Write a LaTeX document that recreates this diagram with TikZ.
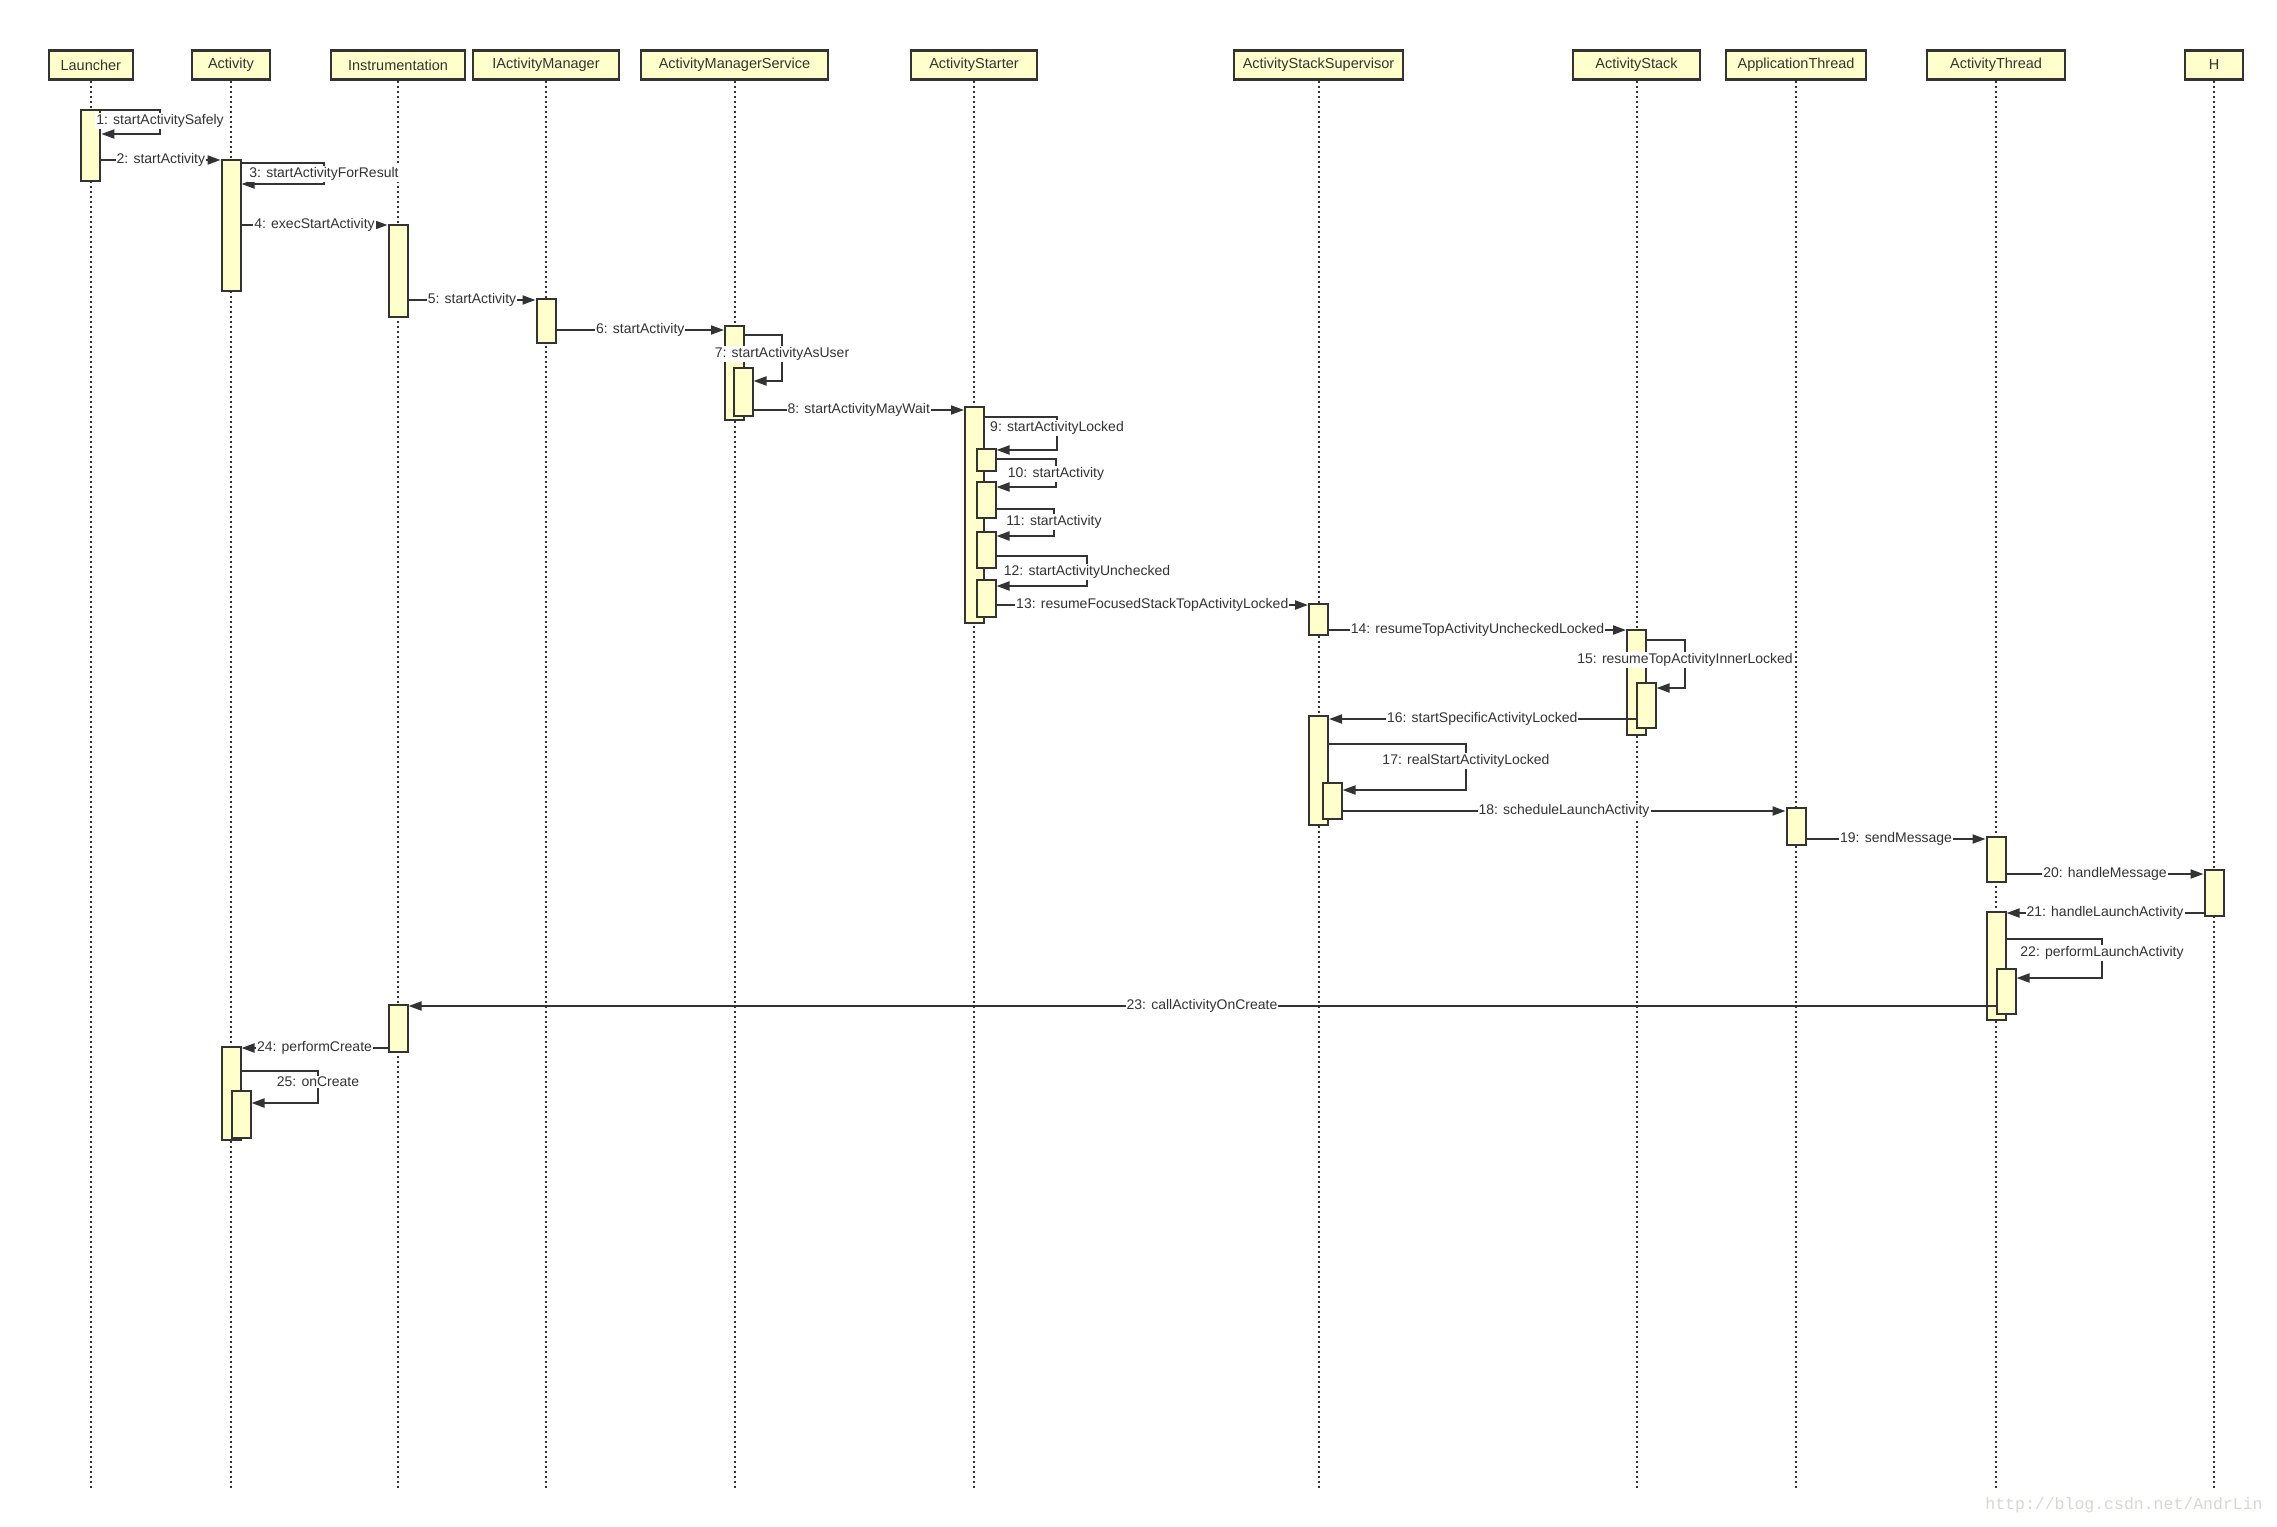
\documentclass[tikz,border=0pt]{standalone}
\usepackage{fontspec}
\setmainfont{Liberation Sans}
\newfontfamily\wmfont{Liberation Mono}
\usetikzlibrary{arrows.meta}
\definecolor{ink}{HTML}{333333}
\definecolor{actfill}{HTML}{FFFFCC}
\definecolor{wmgrey}{HTML}{D8D8D0}
\begin{document}
\begin{tikzpicture}[x=1pt,y=-1pt,
  hdr/.style={draw=ink, line width=2.5pt, fill=actfill, minimum height=29pt, inner sep=0pt,
              font=\fontsize{14.5}{16}\selectfont, text=ink},
  act/.style={draw=ink, line width=2pt, fill=actfill, minimum width=19pt, inner sep=0pt, anchor=north},
  life/.style={draw=ink, line width=2pt, dash pattern=on 2pt off 3pt},
  msg/.style={draw=ink, line width=2pt, -{Triangle[length=13pt,width=9pt]}},
  lbl/.style={fill=white, inner sep=1pt, font=\fontsize{14}{16}\selectfont, text=ink},
]
\fill[white] (0,0) rectangle (2277,1526);
\useasboundingbox (0,0) rectangle (2277,1526);

% ---------- headers ----------
\node[hdr, minimum width=84pt]  (hL) at (90.8,65)  {Launcher};
\node[hdr, minimum width=78pt]  (hA) at (231,65)   {Activity};
\node[hdr, minimum width=134pt] (hI) at (398,65)   {Instrumentation};
\node[hdr, minimum width=146pt] (hM) at (546,65)   {IActivityManager};
\node[hdr, minimum width=187pt] (hS) at (734.5,65) {ActivityManagerService};
\node[hdr, minimum width=126pt] (hR) at (974,65)   {ActivityStarter};
\node[hdr, minimum width=169pt] (hV) at (1318.5,65){ActivityStackSupervisor};
\node[hdr, minimum width=127pt] (hK) at (1636.5,65){ActivityStack};
\node[hdr, minimum width=140pt] (hP) at (1796,65)  {ApplicationThread};
\node[hdr, minimum width=138pt] (hT) at (1996,65)  {ActivityThread};
\node[hdr, minimum width=58pt]  (hH) at (2214,65)  {H};

% ---------- lifelines ----------
\foreach \h in {hL,hA,hI,hM,hS,hR,hV,hK,hP,hT,hH}{
  \coordinate (\h-end) at (\h.south |- 0,1489);
  \draw[life] (\h.south) -- (\h-end);
}

% ---------- activations ----------
\node[act, minimum height=71pt]  (aL)    at (90.8,109) {};
\node[act, minimum height=131pt] (aA1)   at (231,159)  {};
\node[act, minimum height=92pt]  (aI1)   at (398,224)  {};
\node[act, minimum height=44pt]  (aM)    at (546,298)  {};
\node[act, minimum height=94pt]  (aS)    at (734.5,325) {};
\node[act, minimum height=48pt]  (aS2)   at (743,367)  {};
\node[act, minimum height=216pt] (aR)    at (974.5,406) {};
\node[act, minimum height=22pt]  (aR9)   at (986,448)  {};
\node[act, minimum height=36pt]  (aR10)  at (986,481)  {};
\node[act, minimum height=36pt]  (aR11)  at (986,531)  {};
\node[act, minimum height=37pt]  (aR12)  at (986,579)  {};
\node[act, minimum height=31pt]  (aV1)   at (1318.5,603) {};
\node[act, minimum height=105pt] (aK)    at (1636.5,629) {};
\node[act, minimum height=45pt]  (aK2)   at (1646,682) {};
\node[act, minimum height=109pt] (aV2)   at (1318.5,715) {};
\node[act, minimum height=36pt]  (aV3)   at (1332,782) {};
\node[act, minimum height=37pt]  (aP)    at (1796,807) {};
\node[act, minimum height=45pt]  (aT1)   at (1996,836) {};
\node[act, minimum height=46pt]  (aH)    at (2214,869) {};
\node[act, minimum height=108pt] (aT2)   at (1996,911) {};
\node[act, minimum height=45pt]  (aT3)   at (2006,968) {};
\node[act, minimum height=47pt]  (aI2)   at (398,1004) {};
\node[act, minimum height=93pt]  (aA2)   at (231,1046) {};
\node[act, minimum height=47pt]  (aA3)   at (241,1090) {};

% ---------- messages ----------
\draw[msg] (aL.east |- 0,110) -| (160,134) -- (aL.east |- 0,134);
\node[lbl] (m1) at (160,121) {1: startActivitySafely};

\draw[msg] (aL.east |- 0,160) -- (aA1.west |- 0,160) node[lbl, midway] (m2) {2: startActivity};

\draw[msg] (aA1.east |- 0,163) -| (324,184) -- (aA1.east |- 0,184);
\node[lbl] (m3) at (324,174) {3: startActivityForResult};

\draw[msg] (aA1.east |- 0,225) -- (aI1.west |- 0,225) node[lbl, midway] (m4) {4: execStartActivity};

\draw[msg] (aI1.east |- 0,300) -- (aM.west |- 0,300) node[lbl, midway] (m5) {5: startActivity};

\draw[msg] (aM.east |- 0,330) -- (aS.west |- 0,330) node[lbl, midway] (m6) {6: startActivity};

\draw[msg] (aS.east |- 0,335) -| (782,381) -- (aS2.east |- 0,381);
\node[lbl] (m7) at (782,354) {7: startActivityAsUser};

\draw[msg] (aS2.east |- 0,410) -- (aR.west |- 0,410) node[lbl, midway] (m8) {8: startActivityMayWait};

\draw[msg] (aR.east |- 0,417) -| (1057,450) -- (aR9.east |- 0,450);
\node[lbl] (m9) at (1057,428) {9: startActivityLocked};

\draw[msg] (aR9.east |- 0,459) -| (1056,487) -- (aR10.east |- 0,487);
\node[lbl] (m10) at (1056,474) {10: startActivity};

\draw[msg] (aR10.east |- 0,509) -| (1054,536) -- (aR11.east |- 0,536);
\node[lbl] (m11) at (1054,522) {11: startActivity};

\draw[msg] (aR11.east |- 0,556) -| (1087,586) -- (aR12.east |- 0,586);
\node[lbl] (m12) at (1087,572) {12: startActivityUnchecked};

\draw[msg] (aR12.east |- 0,605) -- (aV1.west |- 0,605) node[lbl, midway] (m13) {13: resumeFocusedStackTopActivityLocked};

\draw[msg] (aV1.east |- 0,630) -- (aK.west |- 0,630) node[lbl, midway] (m14) {14: resumeTopActivityUncheckedLocked};

\draw[msg] (aK.east |- 0,640) -| (1685,688) -- (aK2.east |- 0,688);
\node[lbl] (m15) at (1685,660) {15: resumeTopActivityInnerLocked};

\draw[msg] (aK2.west |- 0,719) -- (aV2.east |- 0,719) node[lbl, midway] (m16) {16: startSpecificActivityLocked};

\draw[msg] (aV2.east |- 0,744) -| (1466,790) -- (aV3.east |- 0,790);
\node[lbl] (m17) at (1466,761) {17: realStartActivityLocked};

\draw[msg] (aV3.east |- 0,811) -- (aP.west |- 0,811) node[lbl, midway] (m18) {18: scheduleLaunchActivity};

\draw[msg] (aP.east |- 0,839) -- (aT1.west |- 0,839) node[lbl, midway] (m19) {19: sendMessage};

\draw[msg] (aT1.east |- 0,874) -- (aH.west |- 0,874) node[lbl, midway] (m20) {20: handleMessage};

\draw[msg] (aH.west |- 0,913) -- (aT2.east |- 0,913) node[lbl, midway] (m21) {21: handleLaunchActivity};

\draw[msg] (aT2.east |- 0,939) -| (2102,978) -- (aT3.east |- 0,978);
\node[lbl] (m22) at (2102,953) {22: performLaunchActivity};

\draw[msg] (aT3.west |- 0,1006) -- (aI2.east |- 0,1006) node[lbl, midway] (m23) {23: callActivityOnCreate};

\draw[msg] (aI2.west |- 0,1048) -- (aA2.east |- 0,1048) node[lbl, midway] (m24) {24: performCreate};

\draw[msg] (aA2.east |- 0,1071) -| (318,1103) -- (aA3.east |- 0,1103);
\node[lbl] (m25) at (318,1082) {25: onCreate};

% ---------- watermark ----------
\node[text=wmgrey, font=\wmfont\fontsize{16.5}{18}\selectfont, inner sep=0pt] (wm) at (2124,1505) {http://blog.csdn.net/AndrLin};
\end{tikzpicture}
\end{document}
